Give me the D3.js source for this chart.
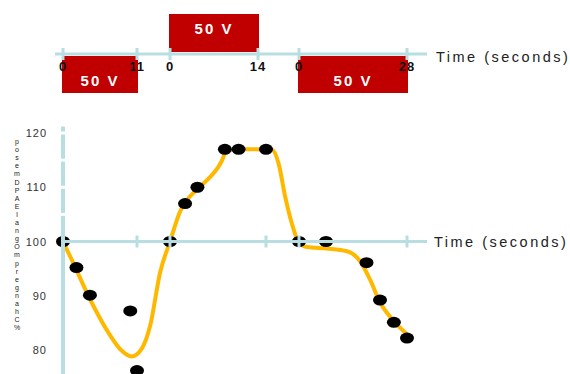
<!DOCTYPE html>
<html>
<head>
<meta charset="utf-8">
<script src="https://cdn.jsdelivr.net/npm/d3@7"></script>
<style>
  body { margin: 0; background: #fff; }
  svg { display: block; font-family: "Liberation Sans", Arial, sans-serif; }
</style>
</head>
<body>
<div class="canvas"></div>
<script>
// time axis is made of three stimulus segments (local seconds), laid end to end
const segLengths = [11, 14, 28]
const segOffsets = [0, 16, 35]          // cumulative start of each segment
const pulseLabels = ['50 V', '50 V', '50 V']
const pulseSide = ['below', 'above', 'below']

// measured points, local time per segment
const seg1Times = [0, 2, 4, 10, 11]
const seg1Values = [100, 95.2, 90.1, 87.2, 76.2]
const seg2Times = [0, 2.2, 4, 8, 10, 14]
const seg2Values = [100, 107, 110, 117, 117, 117]
const seg3Times = [0, 7, 17.5, 21, 24.6, 28]
const seg3Values = [100, 100, 96.1, 89.2, 85.1, 82.2]

// smooth trend (cumulative time)
const fitTimes = [0, 1.5, 4, 6.7, 8.7, 10.2, 11.7, 13, 14.5, 16, 17.5, 18.9, 20.4, 23.5, 24.3, 27, 30.9, 31.9, 32.9, 33.9, 34.9, 37, 42.2, 47.4, 50.8, 53.4, 56, 59.5, 63]
const fitValues = [100, 96.1, 89.4, 83.3, 79.9, 78.8, 80.2, 84.5, 94.3, 100, 105.6, 108.3, 110.1, 114.7, 116.8, 117, 116.9, 114.4, 108.3, 103.4, 100, 99, 98.7, 98.2, 96.4, 93, 88.8, 85.4, 82.9]

const yTicks = [80, 90, 100, 110, 120]
const yGaps = [105, 110, 115, 120]
const yLabel = ['p','o','s','e','m','D','P','A','E','l','a','n','g','O','m','p','r','e','g','n','a','h','C','%']

const axisColor = '#b8dee1'

// break points of the time axis
const breaks = []
segLengths.forEach((len, i) => { breaks.push(segOffsets[i], segOffsets[i] + len) })

const xTop = d3.scaleLinear().domain(breaks).range([63, 137, 170, 258, 299, 407])
const xMain = d3.scaleLinear().domain(breaks).range([63, 137, 170, 266, 299, 407])
const y = d3.scaleLinear().domain([80, 120]).range([350, 133])

const svg = d3.select('.canvas').append('svg')
    .attr('width', 570)
    .attr('height', 374)

// ---------- top stimulus strip ----------
const stripY = 54
const strip = svg.append('g')

segLengths.forEach((len, i) => {
    const x0 = xTop(segOffsets[i]), x1 = xTop(segOffsets[i] + len)
    const above = pulseSide[i] === 'above'
    strip.append('rect')
        .attr('x', x0 - 1)
        .attr('y', above ? 14 : stripY + 2)
        .attr('width', x1 - x0 + 2)
        .attr('height', above ? stripY - 2 - 14 : 37)
        .attr('fill', '#c00000')
    strip.append('text')
        .attr('x', (x0 + x1) / 2)
        .attr('y', above ? 34 : 86)
        .attr('text-anchor', 'middle')
        .attr('fill', '#fff')
        .style('font-size', '15px')
        .style('font-weight', 700)
        .style('letter-spacing', '2px')
        .text(pulseLabels[i])
})

strip.append('line')
    .attr('x1', 55).attr('x2', 427)
    .attr('y1', stripY).attr('y2', stripY)
    .attr('stroke', axisColor)
    .attr('stroke-width', 3)

segLengths.forEach((len, i) => {
    [0, len].forEach(t => {
        const x = xTop(segOffsets[i] + t)
        strip.append('line')
            .attr('x1', x).attr('x2', x)
            .attr('y1', stripY - 6).attr('y2', stripY + 6)
            .attr('stroke', axisColor)
            .attr('stroke-width', 3)
        strip.append('text')
            .attr('x', x)
            .attr('y', 71)
            .attr('text-anchor', 'middle')
            .attr('fill', '#111')
            .style('font-size', '13px')
            .style('font-weight', 700)
            .style('letter-spacing', '1px')
            .text(t)
    })
})

strip.append('text')
    .attr('x', 436)
    .attr('y', 62)
    .attr('fill', '#222')
    .style('font-size', '14.5px')
    .style('letter-spacing', '2.5px')
    .text('Time (seconds)')

// ---------- main chart ----------
const line = d3.line()
    .x((d, i) => xMain(d))
    .y((d, i) => y(fitValues[i]))
    .curve(d3.curveMonotoneX)

svg.append('path')
    .attr('d', line(fitTimes))
    .attr('fill', 'none')
    .attr('stroke', '#ffb800')
    .attr('stroke-width', 4)

const points = []
;[[seg1Times, seg1Values], [seg2Times, seg2Values], [seg3Times, seg3Values]].forEach(([ts, vs], i) => {
    ts.forEach((t, j) => points.push({ t: segOffsets[i] + t, v: vs[j] }))
})

svg.selectAll('ellipse.pt')
    .data(points)
    .enter().append('ellipse')
    .attr('class', 'pt')
    .attr('cx', d => xMain(d.t))
    .attr('cy', d => y(d.v))
    .attr('rx', 7)
    .attr('ry', 5.5)
    .attr('fill', '#000')

// axes drawn over the dots
const axes = svg.append('g')
axes.append('line')
    .attr('x1', xMain(0)).attr('x2', xMain(0))
    .attr('y1', y(121.2)).attr('y2', 374)
    .attr('stroke', axisColor)
    .attr('stroke-width', 4)

axes.selectAll('rect.gap')
    .data(yGaps)
    .enter().append('rect')
    .attr('class', 'gap')
    .attr('x', xMain(0) - 3)
    .attr('y', d => y(d) - 1.5)
    .attr('width', 6)
    .attr('height', 3)
    .attr('fill', '#fff')

axes.append('line')
    .attr('x1', xMain(0)).attr('x2', 427)
    .attr('y1', y(100)).attr('y2', y(100))
    .attr('stroke', axisColor)
    .attr('stroke-width', 3)

axes.selectAll('line.tick')
    .data(breaks)
    .enter().append('line')
    .attr('class', 'tick')
    .attr('x1', d => xMain(d)).attr('x2', d => xMain(d))
    .attr('y1', y(100) - 6).attr('y2', y(100) + 6)
    .attr('stroke', axisColor)
    .attr('stroke-width', 3)

axes.append('text')
    .attr('x', 434)
    .attr('y', y(100) + 5)
    .attr('fill', '#222')
    .style('font-size', '14.5px')
    .style('letter-spacing', '2.5px')
    .text('Time (seconds)')

// y tick labels
const yAxis = svg.append('g')
    .attr('transform', 'translate(47,0)')
    .call(d3.axisLeft(y).tickValues(yTicks).tickSize(0).tickPadding(0))
yAxis.select('.domain').remove()
yAxis.selectAll('text')
    .attr('fill', '#333')
    .style('font-size', '11px')
    .style('letter-spacing', '1px')
    .style('font-family', '"Liberation Sans", Arial, sans-serif')

// stacked y label, one glyph per text
svg.append('g').selectAll('text')
    .data(yLabel)
    .enter().append('text')
    .attr('x', 17)
    .attr('y', (d, i) => 144 + i * 8.1)
    .attr('text-anchor', 'middle')
    .attr('fill', '#222')
    .style('font-size', '7px')
    .text(d => d)
</script>
</body>
</html>
